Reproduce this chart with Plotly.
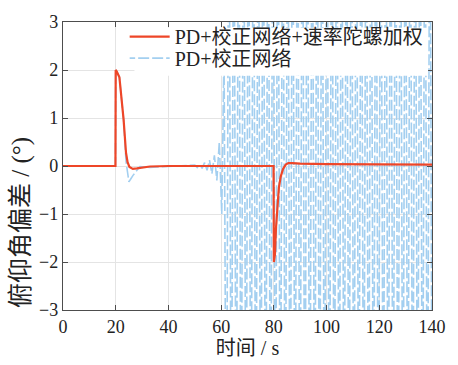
import plotly.graph_objects as go

# ---- data ----
red_t = [0, 19.9, 20.0, 20.4, 21.4, 22.2, 23.0, 23.9, 24.5, 25.2, 26.5, 28.0, 30.0, 33.0,
         40.0, 50.0, 60.0, 70.0, 79.9, 80.0, 80.4, 80.8, 81.3, 81.9, 82.6, 83.5, 84.5,
         85.5, 87.0, 90.0, 100.0, 120.0, 140.0]
red_v = [0, 0, 2.0, 1.97, 1.85, 1.45, 0.96, 0.28, 0.08, -0.02, -0.06, -0.05, -0.03, -0.01,
         0.0, 0.0, 0.0, 0.0, 0.0, -2.0, -1.85, -1.3, -0.8, -0.45, -0.22, -0.06, 0.03,
         0.06, 0.06, 0.05, 0.04, 0.03, 0.03]

# blue: settling part up to the onset of the divergent oscillation
blue_t = [0, 19.9, 20.0, 20.4, 21.4, 22.2, 23.0, 23.9, 25.0, 26.5, 29.2, 33.0, 40.0, 45.0,
          50.0, 50.93, 51.86, 52.79, 53.72, 54.65, 55.58, 56.51, 57.44, 58.37, 59.30, 60.23,
          61.10, 62.00]
blue_v = [0, 0, 2.0, 1.97, 1.85, 1.45, 0.96, 0.1, -0.33, -0.2, -0.01, -0.03, -0.01, 0.0,
          0.02, -0.03, 0.04, -0.05, 0.07, -0.09, 0.12, -0.16, 0.22, -0.3, 0.5, -1.0,
          2.5, -7.973]
# blue: divergent oscillation (extrema, clipped by the axis range)
blue_osc_t = [62.00, 62.93, 63.86, 64.79, 65.72, 66.65, 67.58, 68.51, 69.44, 70.37, 71.30, 72.23,
              73.16, 74.09, 75.02, 75.95, 76.88, 77.81, 78.74, 79.67, 80.60, 81.53, 82.46, 83.39,
              84.32, 85.25, 86.18, 87.11, 88.04, 88.97, 89.90, 90.83, 91.76, 92.69, 93.62, 94.55,
              95.48, 96.41, 97.34, 98.27, 99.20, 100.13, 101.06, 101.99, 102.92, 103.85, 104.78,
              105.71, 106.64, 107.57, 108.50, 109.43, 110.36, 111.29, 112.22, 113.15, 114.08,
              115.01, 115.94, 116.87, 117.80, 118.73, 119.66, 120.59, 121.52, 122.45, 123.38,
              124.31, 125.24, 126.17, 127.10, 128.03, 128.96, 129.89, 130.82, 131.75, 132.68,
              133.61, 134.54, 135.47, 136.40, 137.33, 138.26, 139.19, 140.12]
blue_osc_v = [-7.973, 7.973, -7.973, 7.973, -7.973, 7.973, -7.973, 7.973, -7.973, 7.973, -7.973, 7.973,
              -7.973, 7.973, -7.973, 7.973, -7.973, 7.973, -7.973, 7.973, -7.973, 7.973, -7.973, 7.973,
              -7.973, 7.973, -7.973, 7.973, -7.973, 7.973, -7.973, 7.973, -7.973, 7.973, -7.973, 7.973,
              -7.973, 7.973, -7.973, 7.973, -7.973, 7.973, -7.973, 7.973, -7.973, 7.973, -7.973,
              7.973, -7.973, 7.973, -7.973, 7.973, -7.973, 7.973, -7.973, 7.973, -7.973,
              7.973, -7.973, 7.973, -7.973, 7.973, -7.973, 7.973, -7.973, 7.973, -7.973,
              7.973, -7.973, 7.973, -7.973, 7.973, -7.973, 7.973, -7.973, 7.973, -7.973,
              7.973, -7.973, 7.973, -7.973, 7.973, -7.973, 7.973, -7.973]

x_ticks = [0, 20, 40, 60, 80, 100, 120, 140]
y_ticks = [-3, -2, -1, 0, 1, 2, 3]

name_red = "PD+校正网络+速率陀螺加权"
name_blue = "PD+校正网络"
x_title = "时间 / s"
y_title = "俯仰角偏差 / (°)"

FONT = "'Liberation Serif', 'Noto Sans CJK SC', serif"
AX = "#4d4d4d"
BLUE = "#a3cff0"
RED = "#ee4628"
DASH = "5.5px,3px,5.5px,0px"

fig = go.Figure()
fig.add_trace(go.Scatter(x=blue_t, y=blue_v, mode="lines", name=name_blue,
                         line=dict(color=BLUE, width=1.6, dash=DASH),
                         legend="legend2"))
fig.add_trace(go.Scatter(x=blue_osc_t, y=blue_osc_v, mode="lines", name=name_blue,
                         line=dict(color=BLUE, width=1.6, dash=DASH),
                         showlegend=False))
fig.add_trace(go.Scatter(x=red_t, y=red_v, mode="lines", name=name_red,
                         line=dict(color=RED, width=2.2), legend="legend"))

axis_common = dict(showline=True, linecolor=AX, linewidth=1.3, mirror="ticks",
                   ticks="inside", ticklen=5, tickcolor=AX, tickwidth=1,
                   showgrid=True, gridcolor="#e4e4e4", gridwidth=1, zeroline=False,
                   tickfont=dict(family=FONT, size=18, color="#222"))

fig.update_xaxes(range=[0, 140], tickvals=x_ticks, **axis_common,
                 title=dict(text=x_title, font=dict(family=FONT, size=20, color="#222"), standoff=2))
fig.update_yaxes(range=[-3, 3], tickvals=y_ticks, **axis_common)

# white box behind the legend (covers the oscillation there)
fig.add_shape(type="rect", xref="paper", yref="paper",
              x0=(136 - 63) / 377, x1=(436 - 63) / 377,
              y0=1 - (72 - 17) / 295, y1=1 - (23 - 17) / 295,
              fillcolor="white", opacity=1, line=dict(width=0), layer="above")

fig.add_annotation(text=y_title, textangle=-90, xref="paper", yref="paper",
                   x=(20 - 63) / 377, y=1 - (222 - 17) / 295, showarrow=False,
                   xanchor="center", yanchor="middle",
                   font=dict(family=FONT, size=25, color="#222"))

leg = dict(xanchor="left", yanchor="middle", bgcolor="rgba(0,0,0,0)", borderwidth=0,
           font=dict(family=FONT, size=20, color="#222"), itemwidth=40)
fig.update_layout(
    width=458, height=365,
    margin=dict(l=63, r=18, t=17, b=53),
    paper_bgcolor="white", plot_bgcolor="white",
    showlegend=True,
    legend=dict(x=(126 - 63) / 377, y=1 - (32 - 17) / 295, **leg),
    legend2=dict(x=(126 - 63) / 377, y=1 - (54 - 17) / 295, **leg),
)

fig.write_html("out.html")
